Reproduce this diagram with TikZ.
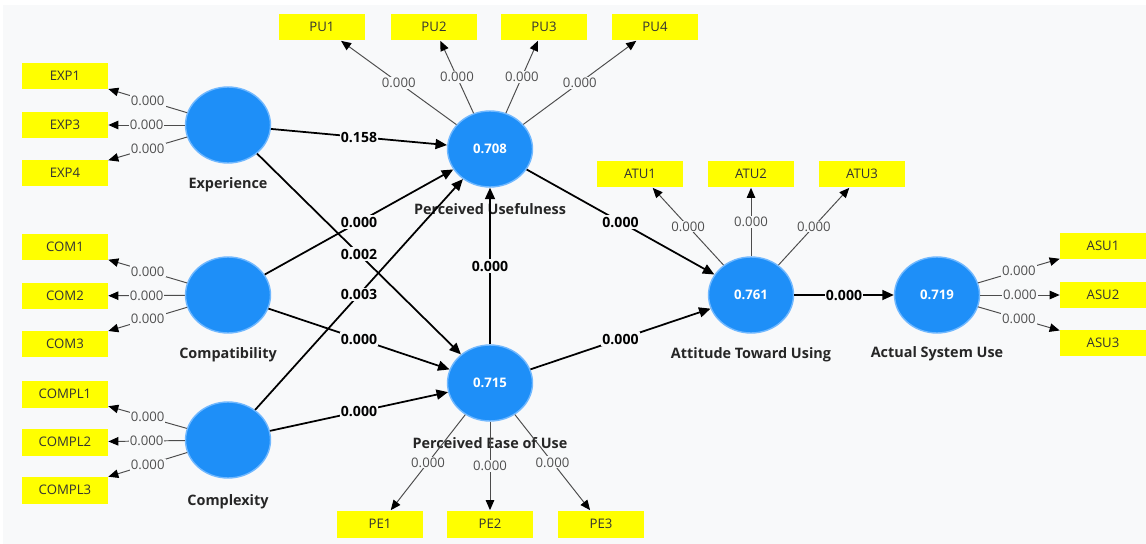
\documentclass[tikz,border=0pt]{standalone}
\usepackage{fontspec}
\setmainfont{Open Sans}
\usetikzlibrary{positioning,arrows.meta,shapes.geometric}
\definecolor{plsblue}{HTML}{1E8FF8}
\definecolor{plsrim}{HTML}{70B8FF}
\definecolor{plsyellow}{HTML}{FFFF00}
\definecolor{plsbg}{HTML}{F8F9FA}
\definecolor{loadgray}{HTML}{505050}

\begin{document}
\begin{tikzpicture}[
  x=0.02cm, y=-0.02cm,
  latent/.style={ellipse, fill=plsblue, draw=plsrim, line width=0.8pt, minimum width=1.7cm,
    minimum height=1.52cm, inner sep=0pt, text=white, font=\fontsize{7.5}{8}\selectfont\bfseries},
  indic/.style={fill=plsyellow, minimum width=1.72cm, minimum height=0.54cm, inner sep=0pt,
    font=\fontsize{7.5}{8}\selectfont, text=black!80},
  latname/.style={font=\fontsize{8.2}{9}\selectfont\bfseries, text=black!85},
  outer/.style={draw=black!70, line width=0.55pt, -{Triangle[length=2mm,width=1.7mm,color=black]}},
  inner/.style={draw=black, line width=1pt, -{Triangle[length=2.3mm,width=2mm]}},
  load/.style={fill=plsbg, inner sep=0.6pt, font=\fontsize{7.5}{8}\selectfont, text=loadgray},
  coef/.style={fill=plsbg, inner sep=0.8pt, font=\fontsize{8}{9}\selectfont\bfseries}
]
  \useasboundingbox (0,0) rectangle (1146,544);
  \fill[white] (0,0) rectangle (1146,544);
  \fill[plsbg] (3,5) rectangle (1146,544);

  % Latent variables
  \node[latent] (exp)  at (228,125) {};
  \node[latent] (comp) at (228,295) {};
  \node[latent] (cplx) at (228,440) {};
  \node[latent] (pu)   at (490,149) {0.708};
  \node[latent] (peou) at (490,383) {0.715};
  \node[latent] (atu)  at (751,295) {0.761};
  \node[latent] (asu)  at (937,295) {0.719};

  % Latent names
  \node[latname] at ([yshift=-1.2cm]exp)  {Experience};
  \node[latname] at ([yshift=-1.2cm]comp) {Compatibility};
  \node[latname] at ([yshift=-1.24cm]cplx) {Complexity};
  \node[latname] at ([yshift=-1.2cm]pu)   {Perceived Usefulness};
  \node[latname] at ([yshift=-1.2cm]peou) {Perceived Ease of Use};
  \node[latname] at ([yshift=-1.2cm]atu)  {Attitude Toward Using};
  \node[latname] at ([yshift=-1.18cm]asu) {Actual System Use};

  % Indicators
  \node[indic] (exp1)   at (65,76)  {EXP1};
  \node[indic] (exp3)   at (65,125) {EXP3};
  \node[indic] (exp4)   at (65,173) {EXP4};
  \node[indic] (com1)   at (65,247) {COM1};
  \node[indic] (com2)   at (65,296) {COM2};
  \node[indic] (com3)   at (65,344) {COM3};
  \node[indic] (compl1) at (65,394) {COMPL1};
  \node[indic] (compl2) at (65,442) {COMPL2};
  \node[indic] (compl3) at (65,490) {COMPL3};
  \node[indic] (pu1)    at (322,27) {PU1};
  \node[indic] (pu2)    at (434,27) {PU2};
  \node[indic] (pu3)    at (544,27) {PU3};
  \node[indic] (pu4)    at (655,27) {PU4};
  \node[indic] (atu1)   at (640,174) {ATU1};
  \node[indic] (atu2)   at (751,174) {ATU2};
  \node[indic] (atu3)   at (862,174) {ATU3};
  \node[indic] (asu1)   at (1103,246) {ASU1};
  \node[indic] (asu2)   at (1103,295) {ASU2};
  \node[indic] (asu3)   at (1103,343) {ASU3};
  \node[indic] (pe1)    at (380,524) {PE1};
  \node[indic] (pe2)    at (490,524) {PE2};
  \node[indic] (pe3)    at (601,524) {PE3};

  % Outer loadings
  \draw[outer] (exp) -- node[load] {0.000} (exp1);
  \draw[outer] (exp) -- node[load] {0.000} (exp3);
  \draw[outer] (exp) -- node[load] {0.000} (exp4);
  \draw[outer] (comp) -- node[load] {0.000} (com1);
  \draw[outer] (comp) -- node[load] {0.000} (com2);
  \draw[outer] (comp) -- node[load] {0.000} (com3);
  \draw[outer] (cplx) -- node[load] {0.000} (compl1);
  \draw[outer] (cplx) -- node[load] {0.000} (compl2);
  \draw[outer] (cplx) -- node[load] {0.000} (compl3);
  \draw[outer] (pu) -- node[load] {0.000} (pu1);
  \draw[outer] (pu) -- node[load] {0.000} (pu2);
  \draw[outer] (pu) -- node[load] {0.000} (pu3);
  \draw[outer] (pu) -- node[load] {0.000} (pu4);
  \draw[outer] (atu) -- node[load] {0.000} (atu1);
  \draw[outer] (atu) -- node[load] {0.000} (atu2);
  \draw[outer] (atu) -- node[load] {0.000} (atu3);
  \draw[outer] (asu) -- node[load] {0.000} (asu1);
  \draw[outer] (asu) -- node[load] {0.000} (asu2);
  \draw[outer] (asu) -- node[load] {0.000} (asu3);
  \draw[outer] (peou) -- node[load] {0.000} (pe1);
  \draw[outer] (peou) -- node[load] {0.000} (pe2);
  \draw[outer] (peou) -- node[load] {0.000} (pe3);

  % Inner model paths
  \draw[inner] (exp)  -- node[coef] {0.158} (pu);
  \draw[inner] (exp)  -- node[coef] {0.002} (peou);
  \draw[inner] (comp) -- node[coef] {0.000} (pu);
  \draw[inner] (cplx) -- node[coef] {0.003} (pu);
  \draw[inner] (comp) -- node[coef] {0.000} (peou);
  \draw[inner] (cplx) -- node[coef] {0.000} (peou);
  \draw[inner] (peou) -- node[coef] {0.000} (pu);
  \draw[inner] (pu)   -- node[coef] {0.000} (atu);
  \draw[inner] (peou) -- node[coef] {0.000} (atu);
  \draw[inner] (atu)  -- node[coef] {0.000} (asu);
\end{tikzpicture}
\end{document}
